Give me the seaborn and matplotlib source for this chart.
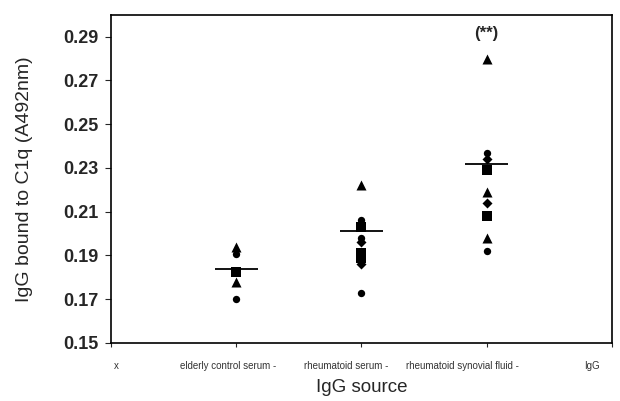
import pandas as pd
import seaborn as sns
import matplotlib.pyplot as plt
from matplotlib.transforms import ScaledTranslation

# tick labels along the x axis (first and last are empty slots in the original)
tick_labels = ["x", "elderly control serum -", "rheumatoid serum -",
               "rheumatoid synovial fluid -", "IgG"]
groups = tick_labels[1:4]

# value and marker shape of every point
elderly_values = [0.194, 0.1905, 0.1825, 0.178, 0.170]
elderly_shapes = ["triangle", "circle", "square", "triangle", "circle"]

serum_values = [0.222, 0.206, 0.203, 0.198, 0.196, 0.191, 0.189, 0.186, 0.173]
serum_shapes = ["triangle", "circle", "square", "circle", "diamond",
                "square", "square", "diamond", "circle"]

synovial_values = [0.280, 0.237, 0.234, 0.229, 0.219, 0.214, 0.208, 0.198, 0.192]
synovial_shapes = ["triangle", "circle", "diamond", "square", "triangle",
                   "diamond", "square", "triangle", "circle"]

# horizontal bars drawn through each column
group_lines = [0.184, 0.201, 0.232]


def build_frame():
    rows = []
    for pos, (vals, shapes) in enumerate(
            [(elderly_values, elderly_shapes),
             (serum_values, serum_shapes),
             (synovial_values, synovial_shapes)], start=1):
        for v, s in zip(vals, shapes):
            rows.append({"pos": pos, "value": v, "shape": s})
    return pd.DataFrame(rows)


def main():
    data = build_frame()

    sns.set_style("white")
    plt.rcParams['font.family'] = ['Liberation Sans', 'DejaVu Sans']

    fig = plt.figure(figsize=(6.2, 4.01), dpi=100)
    ax = fig.add_axes([0.179, 0.145, 0.808, 0.818])

    markers = {"circle": "o", "square": "s", "triangle": "^", "diamond": "D"}
    sizes = {"circle": 28, "square": 42, "triangle": 52, "diamond": 26}
    for shape, sub in data.groupby("shape"):
        sns.scatterplot(data=sub, x="pos", y="value", marker=markers[shape],
                        s=sizes[shape], color="black", edgecolor="black",
                        linewidth=0, ax=ax, legend=False, zorder=3)

    half = 0.17
    for pos, val in enumerate(group_lines, start=1):
        ax.hlines(val, pos - half, pos + half, color="black", lw=1.3, zorder=2)

    ax.text(3, 0.2915, "(**)", ha="center", va="center", fontsize=12,
            fontweight="bold")

    ax.set_xlim(0, 4)
    ax.set_ylim(0.15, 0.30)
    ax.set_xticks(range(len(tick_labels)))
    ax.set_xticklabels(tick_labels, fontsize=7, color="#333333")
    ax.set_yticks([0.15, 0.17, 0.19, 0.21, 0.23, 0.25, 0.27, 0.29])
    ax.set_yticklabels(["0.15", "0.17", "0.19", "0.21", "0.23", "0.25",
                        "0.27", "0.29"], fontsize=13, fontweight="bold")
    ax.tick_params(axis="y", direction="out", length=4, width=0.8, pad=5,
                   left=True)
    ax.tick_params(axis="x", direction="out", length=3, width=0.8, pad=10,
                   bottom=True)

    # the original labels sit a little left of their ticks
    shifts = [5, -8, -15, -24, -20]
    for lab, dx in zip(ax.get_xticklabels(), shifts):
        lab.set_transform(lab.get_transform() +
                          ScaledTranslation(dx / 100, 0, fig.dpi_scale_trans))

    for side in ["left", "right", "top", "bottom"]:
        ax.spines[side].set_color("black")
        ax.spines[side].set_linewidth(1.2)

    ax.set_xlabel("IgG source", fontsize=13.5, labelpad=6)
    ax.set_ylabel("IgG bound to C1q (A492nm)", fontsize=14, labelpad=22)

    fig.savefig("out.png", dpi=100, facecolor="white")


if __name__ == "__main__":
    main()
